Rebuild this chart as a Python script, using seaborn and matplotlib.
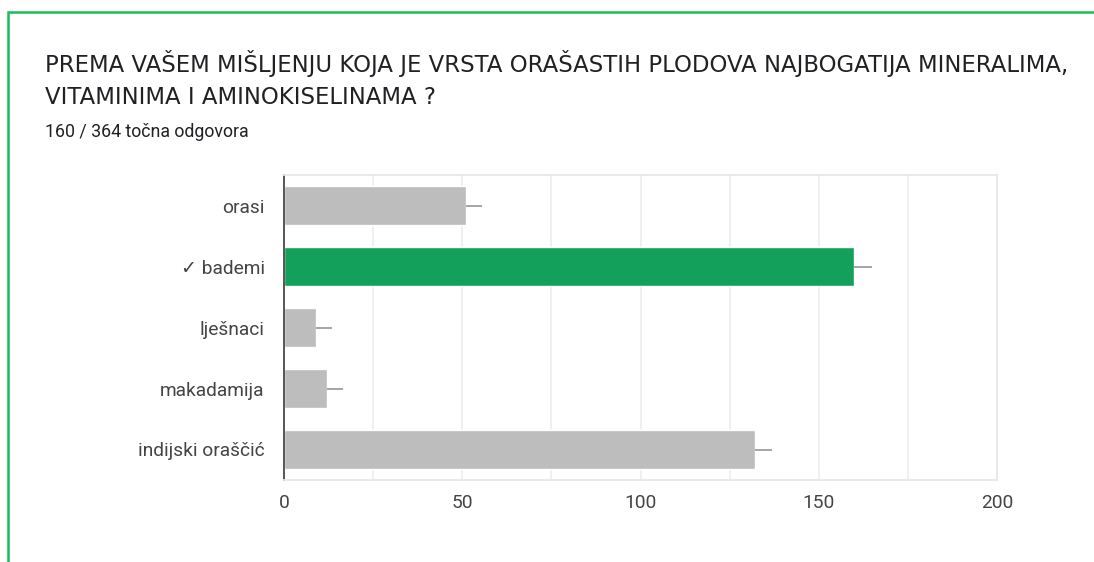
import matplotlib
matplotlib.use("Agg")
import matplotlib.pyplot as plt
import pandas as pd
import seaborn as sns
from matplotlib.patches import Rectangle

# answers and counts
answers = ["orasi", "✓ bademi", "lješnaci", "makadamija", "indijski oraščić"]
counts = [51, 160, 9, 12, 132]
whisker = [4.5, 5, 4.5, 4.5, 4.8]
bar_colors = ["#bdbdbd", "#12a05a", "#bdbdbd", "#bdbdbd", "#bdbdbd"]
x_ticks = [0, 50, 100, 150, 200]
title_lines = ["PREMA VAŠEM MIŠLJENJU KOJA JE VRSTA ORAŠASTIH PLODOVA NAJBOGATIJA MINERALIMA,",
               "VITAMINIMA I AMINOKISELINAMA ?"]
subtitle = "160 / 364 točna odgovora"

sns.set_theme(style="white")
plt.rcParams['font.family'] = ['Roboto', 'DejaVu Sans']

W, H = 1094, 562
fig = plt.figure(figsize=(W / 100, H / 100), dpi=100)
fig.patch.set_facecolor("white")

# green card border (runs off the right / bottom edges)
fig.patches.append(Rectangle((8 / W, -0.1), 1.2, 1.1 - 12 / H, transform=fig.transFigure,
                             fill=False, edgecolor="#1cba5a", linewidth=1.8))

ax = fig.add_axes([284 / W, 1 - 480 / H, (997 - 284) / W, (480 - 175) / H])

df = pd.DataFrame({"odgovor": answers, "broj": counts})
sns.barplot(data=df, x="broj", y="odgovor", hue="odgovor", palette=bar_colors,
            legend=False, errorbar=None, width=0.64, saturation=1, ax=ax)
ax.errorbar(counts, range(len(answers)), xerr=[[0] * len(counts), whisker], fmt="none",
            ecolor="#9e9e9e", elinewidth=1.3, capsize=0)

ax.set_xlim(0, 200)
ax.set_ylim(len(answers) - 0.5, -0.5)
ax.set_xticks(x_ticks)
ax.set_xticks([25, 75, 125, 175], minor=True)
ax.xaxis.grid(True, which="both", color="#efefef", linewidth=1.3)
ax.set_axisbelow(True)
ax.set_xlabel("")
ax.set_ylabel("")
ax.tick_params(axis="x", which="both", length=0, pad=10, labelsize=13.8, labelcolor="#444444")
ax.tick_params(axis="y", length=0, pad=14, labelsize=13.8, labelcolor="#444444")
for side in ["top", "right", "bottom"]:
    ax.spines[side].set_color("#e8e8e8")
    ax.spines[side].set_linewidth(1.3)
ax.spines["left"].set_color("#555555")
ax.spines["left"].set_linewidth(1.4)

fig.text(45 / W, 1 - 72 / H, title_lines[0], fontsize=16.4, color="#202124",
         family=["DejaVu Sans"], va="baseline")
fig.text(45 / W, 1 - 104 / H, title_lines[1], fontsize=16.4, color="#202124",
         family=["DejaVu Sans"], va="baseline")
fig.text(45 / W, 1 - 137 / H, subtitle, fontsize=12.8, color="#202124", va="baseline")

fig.savefig("out.png", dpi=100)
